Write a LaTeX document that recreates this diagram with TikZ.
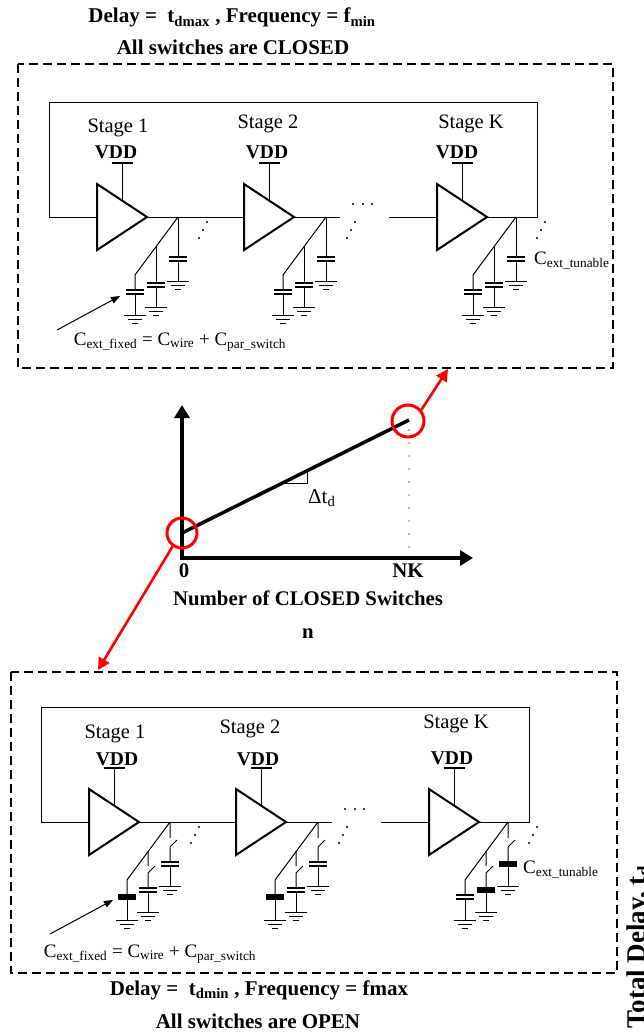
\documentclass[tikz,border=0pt]{standalone}
\usepackage{fontspec}
\setmainfont{Liberation Serif}
\usetikzlibrary{arrows.meta}
\newcommand\mygnd[2]{%
  \draw[wire] (#1-11,#2) -- (#1+11,#2) (#1-7,#2+4) -- (#1+7,#2+4) (#1-3,#2+8) -- (#1+3,#2+8);}
\newcommand\mycap[3]{%
  \ifnum#3=0
    \draw[plate] (#1-9,#2) -- (#1+9,#2) (#1-9,#2+4) -- (#1+9,#2+4);
  \else
    \fill (#1-9,#2-1.3) rectangle (#1+9,#2+5.3);
  \fi}
% #1 node x, #2 wire y, #3 open switches, #4 right bar, #5 middle bar, #6 left bar
\newcommand\capgroup[6]{%
  \draw[wire] (#1,#2) -- (#1-43,#2+58) -- (#1-43,#2+73);
  \mycap{#1-43}{#2+73}{#6}
  \draw[wire] (#1-43,#2+77) -- (#1-43,#2+98);
  \mygnd{#1-43}{#2+98}
  \ifnum#3=0
    \draw[wire] (#1,#2) -- (#1,#2+40);
    \draw[wire] (#1-22,#2+29.7) -- (#1-22,#2+66);
  \else
    \draw[wire] (#1,#2) -- (#1,#2+16) (#1+7,#2+18) -- (#1,#2+25) -- (#1,#2+40);
    \draw[wire] (#1-22,#2+29.7) -- (#1-22,#2+44) (#1-15,#2+44) -- (#1-22,#2+51) -- (#1-22,#2+66);
  \fi
  \mycap{#1}{#2+40}{#4}
  \draw[wire] (#1,#2+44) -- (#1,#2+64);
  \mygnd{#1}{#2+64}
  \mycap{#1-22}{#2+66}{#5}
  \draw[wire] (#1-22,#2+70) -- (#1-22,#2+90);
  \mygnd{#1-22}{#2+90}
  \fill (#1+21,238) circle (1.2pt) (#1+25,230) circle (1.2pt) (#1+29,222) circle (1.2pt);
}
\newcommand\oscbody{%
  \draw[wire] (97,217) -- (49,217) -- (49,102) -- (537,102) -- (537,217) -- (487,217);
  \draw[wire] (147,217) -- (244,217);
  \draw[wire] (294,217) -- (340,217);
  \draw[wire] (389,217) -- (437,217);
  \foreach \L in {97,244,437} {
    \draw[tri] (\L,184) -- (\L+50,217) -- (\L,250) -- cycle;
    \draw[wire] (\L+25,163) -- (\L+25,200.5);
    \draw[plate] (\L+14.5,163) -- (\L+35.5,163);
  }
  \fill (353,204) circle (1.2pt) (363,204) circle (1.2pt) (372,204) circle (1.2pt);
}
\begin{document}
\begin{tikzpicture}[x=1pt,y=-1pt,
  wire/.style={line width=1pt},
  tri/.style={line width=2pt, line join=miter},
  plate/.style={line width=2.6pt},
  dbox/.style={line width=2.4pt, dash pattern=on 9pt off 5pt},
  stg/.style={font=\fontsize{20.5}{24}\selectfont, inner sep=0, anchor=base},
  vddl/.style={font=\bfseries\fontsize{19.5}{23}\selectfont, inner sep=0, anchor=base},
  captxt/.style={font=\fontsize{19}{22}\selectfont, inner sep=0, anchor=base},
  ttl/.style={font=\bfseries\fontsize{21}{24}\selectfont, inner sep=0, anchor=base},
  axl/.style={font=\bfseries\fontsize{20.8}{24}\selectfont, inner sep=0, anchor=base},
  reda/.style={red, line width=2.6pt, -{Triangle[length=12pt,width=12pt]}},
  axis/.style={line width=4pt, line join=miter, {Triangle[length=13pt,width=15pt]}-{Triangle[length=13pt,width=15pt]}}
]
\useasboundingbox (0,0) rectangle (644,1036);

% ---------- top ----------
\node[ttl] (t1) at (232,23) {Delay =\ \ t\textsubscript{dmax} , Frequency = f\textsubscript{min}};
\node[ttl] (t2) at (233,54) {All switches are CLOSED};
\draw[dbox] (18,64) rectangle (613,368);
\oscbody
\capgroup{178}{217}{0}{0}{0}{0}
\capgroup{326}{217}{0}{0}{0}{0}
\capgroup{516}{217}{0}{0}{0}{0}
\node[stg] (s1) at (118,132) {Stage 1};
\node[stg] (s2) at (268,128.5) {Stage 2};
\node[stg] (sk) at (471,128.5) {Stage K};
\node[vddl] (v1) at (116,158) {VDD};
\node[vddl] (v2) at (267,158) {VDD};
\node[vddl] (vk) at (457,158) {VDD};
\node[captxt, anchor=base west] (ct) at (534,264) {C\textsubscript{ext\_tunable}};
\node[captxt] (cf) at (180,345) {C\textsubscript{ext\_fixed} = C\textsubscript{wire} + C\textsubscript{par\_switch}};
\coordinate (af0) at (57,330);
\coordinate (af1) at (120,296);
\draw[line width=1pt, -{Triangle[length=9pt,width=7pt]}] (af0) -- (af1);

% ---------- chart ----------
\coordinate (oy) at (182,405);
\coordinate (o) at (182,558);
\coordinate (ox) at (473,558);
\draw[axis] (oy) -- (o) -- (ox);
\coordinate (p0) at (182,533);
\coordinate (p1) at (409,420);
\draw[line width=3.5pt] (p0) -- (p1);
\draw[gray, line width=1.7pt, line cap=round, dash pattern=on 0pt off 13pt] (409,430) -- (409,556);
\draw[line width=0.8pt] (285,483) -- (307,483) -- (307,471);
\node[font=\fontsize{21}{24}\selectfont, inner sep=0, anchor=base west] (dt) at (308,503.5) {Δt\textsubscript{d}};
\node[axl] (zero) at (184,577) {0};
\node[axl] (nk) at (408,577) {NK};
\node[axl] (num) at (308,605) {Number of CLOSED Switches};
\node[axl] (n) at (308,638) {n};
\node[circle, draw=red, line width=3pt, minimum size=30pt, inner sep=0] (c0) at (182,533) {};
\node[circle, draw=red, line width=3pt, minimum size=32pt, inner sep=0] (c1) at (408,421) {};
\coordinate (ra1) at (448,369);
\coordinate (ra0) at (98,670);
\draw[reda] (c1.40) -- (ra1);
\draw[reda] (c0.235) -- (ra0);
\node[font=\bfseries\fontsize{27}{30}\selectfont, inner sep=0, rotate=90, anchor=north west] (td) at (627,1029) {Total Delay, t\textsubscript{d}};

% ---------- bottom ----------
\draw[dbox] (11,672) rectangle (617,973);
\begin{scope}[shift={(-8,605)}]
\oscbody
\capgroup{178}{217}{1}{0}{0}{1}
\capgroup{326}{217}{1}{0}{0}{1}
\capgroup{516}{217}{1}{1}{1}{0}
\end{scope}
\node[stg] (b1) at (115,738.5) {Stage 1};
\node[stg] (b2) at (250,733.5) {Stage 2};
\node[stg] (bk) at (456,728.5) {Stage K};
\node[vddl] (bv1) at (117,765) {VDD};
\node[vddl] (bv2) at (258,765) {VDD};
\node[vddl] (bvk) at (452,764) {VDD};
\node[captxt, anchor=base west] (bct) at (523,873) {C\textsubscript{ext\_tunable}};
\node[captxt] (bcf) at (150,957) {C\textsubscript{ext\_fixed} = C\textsubscript{wire} + C\textsubscript{par\_switch}};
\coordinate (bf0) at (50,934);
\coordinate (bf1) at (113,900);
\draw[line width=1pt, -{Triangle[length=9pt,width=7pt]}] (bf0) -- (bf1);
\node[ttl] (bt1) at (259,995) {Delay =\ \ t\textsubscript{dmin} , Frequency = fmax};
\node[ttl] (bt2) at (258,1028) {All switches are OPEN};
\end{tikzpicture}
\end{document}
